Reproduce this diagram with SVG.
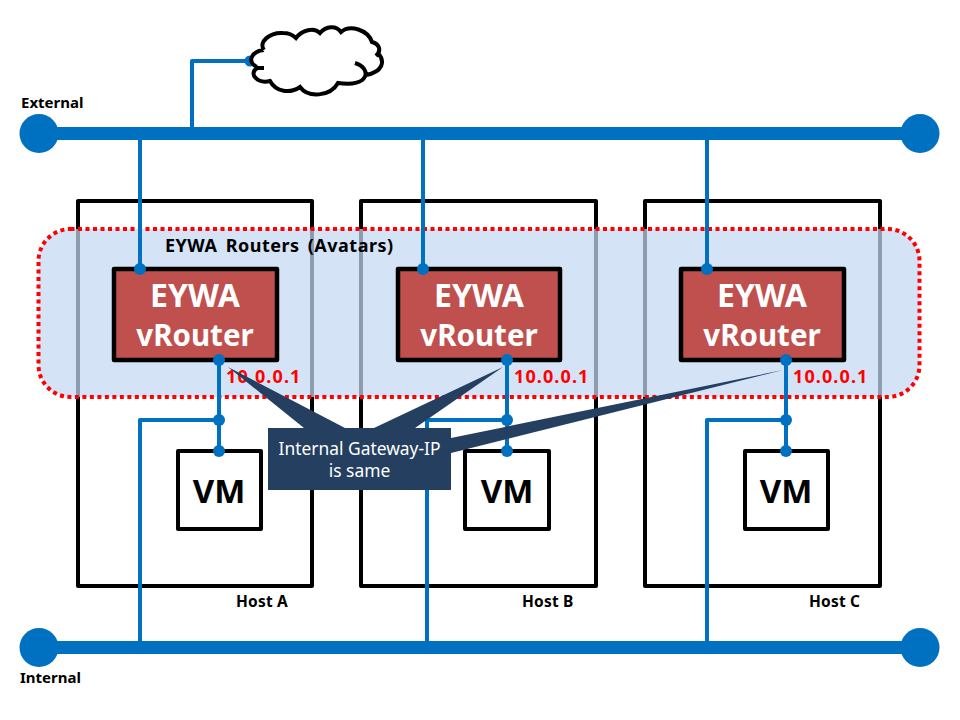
<svg xmlns="http://www.w3.org/2000/svg" width="960" height="720" viewBox="0 0 960 720">
<style>
text{font-family:"Noto Sans","Open Sans","Liberation Sans",sans-serif}
.host{fill:#fff;stroke:#000;stroke-width:4;stroke-linejoin:round}
.rt{fill:#C0504D;stroke:#000;stroke-width:4.500;stroke-linejoin:round}
.vm{fill:#fff;stroke:#000;stroke-width:4;stroke-linejoin:round}
.bus{stroke:#0070C0;stroke-width:13;fill:none}
.wire{stroke:#0070C0;stroke-width:4;fill:none;stroke-linejoin:round}
.dot{fill:#0070C0}
.rt1{fill:#fff;font-size:32px;font-weight:700;text-anchor:middle}
.rt2{fill:#fff;font-size:29.500px;font-weight:700;text-anchor:middle}
.vmt{fill:#000;font-size:33px;font-weight:700;text-anchor:middle}
.lbl{fill:#000;font-size:15px;font-weight:700}
.hst{fill:#000;font-size:15.500px;font-weight:700;letter-spacing:.2px}
.ip{fill:#f00;font-size:18px;font-weight:700;letter-spacing:1.100px}
.co{fill:#243F60}
</style>
<g id="host-a"><rect class="host" x="78" y="201" width="234" height="385"/><text class="hst" x="236" y="607">Host A</text></g>
<g id="host-b"><rect class="host" x="361" y="201" width="235" height="385"/><text class="hst" x="522" y="607">Host B</text></g>
<g id="host-c"><rect class="host" x="645" y="201" width="235" height="385"/><text class="hst" x="809" y="607">Host C</text></g>
<g id="avatars">
<rect x="38.500" y="229" width="881" height="168" rx="32" fill="#C5D8F4" fill-opacity=".72"/>
<rect x="38.500" y="229" width="881" height="168" rx="32" fill="none" stroke="#f00" stroke-width="4" stroke-dasharray="4 3.500"/>
<text x="165" y="252" font-size="18" font-weight="700" word-spacing="3" letter-spacing=".5" fill="#000">EYWA Routers (Avatars)</text>
</g>
<g id="connectors">
<path class="wire" d="M192 133V61H250"/>
<path class="wire" d="M140 133V269M423 133V269M707 133V269"/>
<path class="wire" d="M219 360V451M507 360V451M786 360V451"/>
<path class="wire" d="M219 420H140V647M507 420H427V647M786 420H707V647"/>
<path class="bus" d="M39 133.500H920M39 647.500H920"/>
<circle class="dot" cx="39" cy="133.500" r="19.500"/><circle class="dot" cx="920" cy="133.500" r="19.500"/>
<circle class="dot" cx="39" cy="647.500" r="19.500"/><circle class="dot" cx="920" cy="647.500" r="19.500"/>
<circle class="dot" cx="250" cy="61" r="5.500"/>
</g>
<g id="external"><text class="lbl" x="21" y="108">External</text></g>
<g id="internal"><text class="lbl" x="20" y="683">Internal</text></g>
<g id="cloud">
<path d="M264 50C258 42 270 32 283 33C288 33 293 35 296 38C302 30 314 27 320 33C326 26 336 25 341 32C350 24 368 30 370 42C378 44 382 50 378 53C385 62 382 72 366 75C370 86 350 90 338 82C330 97 308 98 300 87C290 94 276 92 270 81C258 84 250 74 257 66C248 62 252 51 264 50Z" fill="#fff"/>
<path d="M264 50C258 42 270 32 283 33C288 33 293 35 296 38C302 30 314 27 320 33C326 26 336 25 341 32C350 24 368 30 372 42C379 44 382 50 376 56M378 53C386 62 382 72 366 75M355 63C372 68 370 88 338 83C330 97 308 98 300 87C290 94 276 92 270 81C258 84 248 74 257 68L264 68M257 67C246 62 252 51 264 50" fill="none" stroke="#000" stroke-width="4" stroke-linecap="butt"/>
</g>
<g id="router-a"><rect class="rt" x="114" y="269" width="163" height="91"/><text class="rt1" x="195" y="307">EYWA</text><text class="rt2" x="195" y="346">vRouter</text></g>
<g id="router-b"><rect class="rt" x="398" y="269" width="162" height="91"/><text class="rt1" x="479" y="307">EYWA</text><text class="rt2" x="479" y="346">vRouter</text></g>
<g id="router-c"><rect class="rt" x="681" y="269" width="163" height="91"/><text class="rt1" x="762" y="307">EYWA</text><text class="rt2" x="762" y="346">vRouter</text></g>
<g id="vm-a"><rect class="vm" x="178" y="451" width="83" height="78"/><text class="vmt" x="219" y="503">VM</text></g>
<g id="vm-b"><rect class="vm" x="465" y="451" width="84" height="78"/><text class="vmt" x="507" y="503">VM</text></g>
<g id="vm-c"><rect class="vm" x="745" y="451" width="83" height="78"/><text class="vmt" x="786" y="503">VM</text></g>
<g id="dots">
<circle class="dot" cx="140" cy="269" r="6"/><circle class="dot" cx="423" cy="269" r="6"/><circle class="dot" cx="707" cy="269" r="6"/>
<circle class="dot" cx="219" cy="360" r="6"/><circle class="dot" cx="507" cy="360" r="6"/><circle class="dot" cx="786" cy="360" r="6"/>
<circle class="dot" cx="219" cy="420" r="6"/><circle class="dot" cx="507" cy="420" r="6"/><circle class="dot" cx="786" cy="420" r="6"/>
<circle class="dot" cx="219" cy="451" r="6"/><circle class="dot" cx="507" cy="451" r="6"/><circle class="dot" cx="786" cy="451" r="6"/>
</g>
<g id="ips">
<text class="ip" x="226" y="383">10.0.0.1</text><text class="ip" x="514" y="383">10.0.0.1</text><text class="ip" x="793" y="383">10.0.0.1</text>
</g>
<g id="callout">
<path class="co" d="M268 428H304L228 367L345 428H374L503 367L415 428H451V438L783 370L451 453V490H268Z"/>
<text x="359.500" y="455" font-size="17.400" fill="#fff" text-anchor="middle">Internal Gateway-IP</text>
<text x="359.500" y="477" font-size="17.400" fill="#fff" text-anchor="middle">is same</text>
</g>
</svg>
